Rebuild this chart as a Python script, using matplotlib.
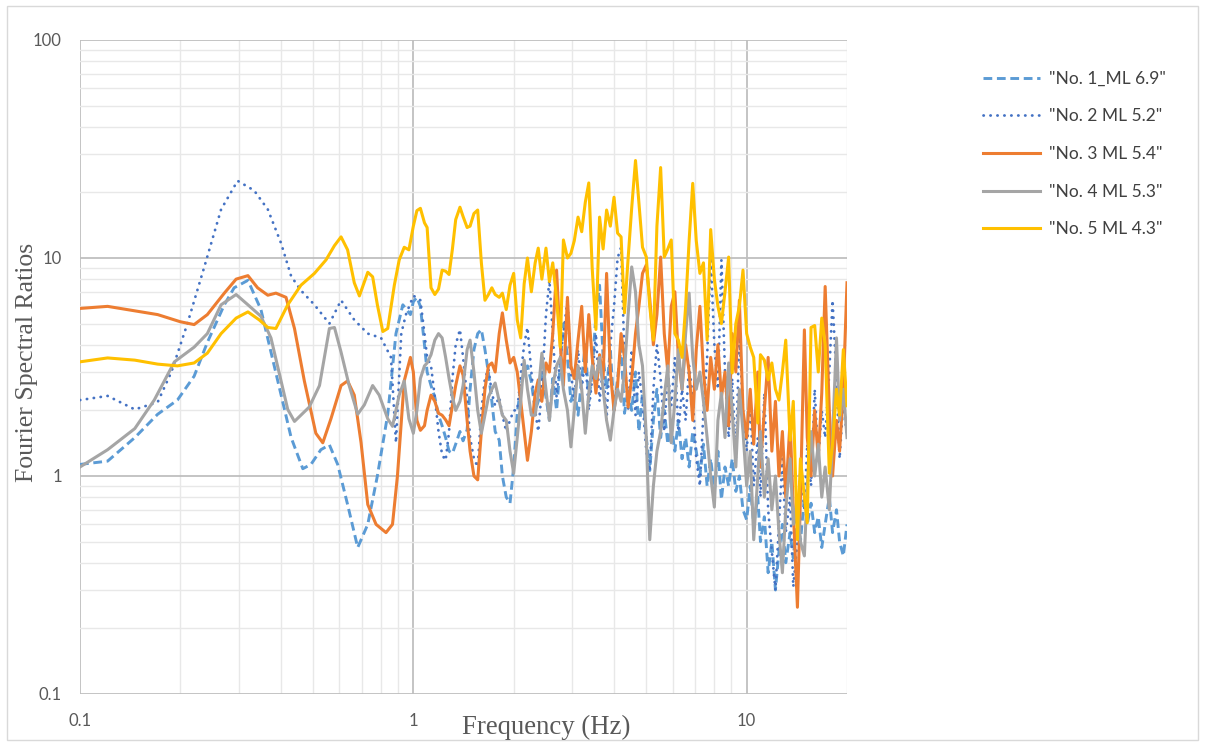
import numpy as np
import matplotlib
matplotlib.use("Agg")
import matplotlib.pyplot as plt
from matplotlib.ticker import FixedLocator, NullFormatter
from matplotlib.patches import Rectangle

# ---- data ----
# smooth low-frequency part, one grid per series
f1_lo = [0.1, 0.121, 0.146, 0.171, 0.196, 0.22, 0.241, 0.271, 0.29, 0.319, 0.349, 0.374, 0.401, 0.43,
         0.466, 0.493, 0.528, 0.56, 0.593, 0.635, 0.681, 0.73, 0.78, 0.838, 0.887, 0.93, 0.98]
v1_lo = [1.13, 1.17, 1.5, 1.92, 2.23, 2.87, 4.1, 6.1, 7.3, 7.9, 5.8, 3.7, 2.35, 1.5,
         1.08, 1.13, 1.32, 1.39, 1.13, 0.74, 0.47, 0.6, 1.0, 1.92, 4.5, 6.1, 5.5]

f2_lo = [0.1, 0.121, 0.146, 0.171, 0.188, 0.21, 0.236, 0.265, 0.297, 0.333, 0.366, 0.401, 0.43, 0.46,
         0.505, 0.56, 0.607, 0.665, 0.73, 0.8, 0.857, 0.887, 0.92, 0.95]
v2_lo = [2.23, 2.33, 2.02, 2.18, 3.0, 5.0, 9.1, 16.7, 22.6, 20.4, 16.7, 11.7, 8.25, 7.1,
         6.1, 5.0, 6.4, 5.2, 4.5, 4.3, 3.5, 1.42, 4.5, 5.5]

f3_lo = [0.1, 0.121, 0.171, 0.2, 0.22, 0.241, 0.271, 0.294, 0.319, 0.341, 0.366, 0.387, 0.415, 0.44,
         0.471, 0.51, 0.535, 0.566, 0.607, 0.635, 0.665, 0.697, 0.73, 0.773, 0.828, 0.866, 0.896, 0.939, 0.98]
v3_lo = [5.87, 6.0, 5.5, 5.1, 4.95, 5.5, 6.9, 8.0, 8.3, 7.3, 6.75, 6.9, 6.6, 4.75,
         2.73, 1.57, 1.42, 1.83, 2.6, 2.73, 2.35, 1.42, 0.74, 0.6, 0.55, 0.6, 1.0, 2.73, 3.5]

f4_lo = [0.1, 0.121, 0.146, 0.167, 0.192, 0.22, 0.241, 0.265, 0.294, 0.319, 0.349, 0.374, 0.401, 0.42,
         0.44, 0.487, 0.523, 0.56, 0.58, 0.607, 0.642, 0.681, 0.713, 0.755, 0.79, 0.838, 0.866, 0.907, 0.939, 0.97]
v4_lo = [1.1, 1.32, 1.65, 2.23, 3.34, 3.9, 4.5, 6.1, 6.8, 6.1, 5.4, 4.3, 2.73, 2.02,
         1.78, 2.07, 2.6, 4.75, 4.8, 3.7, 2.6, 1.92, 2.12, 2.6, 2.35, 1.83, 1.69, 2.35, 2.73, 1.83]

f5_lo = [0.1, 0.121, 0.146, 0.171, 0.196, 0.22, 0.241, 0.265, 0.294, 0.319, 0.345, 0.366, 0.387, 0.42,
         0.46, 0.505, 0.547, 0.58, 0.607, 0.635, 0.665, 0.689, 0.73, 0.755, 0.78, 0.81, 0.838, 0.877,
         0.907, 0.939, 0.97]
v5_lo = [3.34, 3.48, 3.4, 3.26, 3.2, 3.3, 3.66, 4.5, 5.3, 5.66, 5.2, 4.8, 4.75, 6.1,
         7.5, 8.5, 9.8, 11.4, 12.5, 10.9, 7.7, 6.7, 8.6, 8.2, 6.1, 4.6, 4.75, 7.5,
         9.8, 11.2, 10.9]

# noisy part, shared frequency grid 1-20 Hz
freq_hi = [1.00, 1.025, 1.05, 1.08, 1.10, 1.13, 1.16, 1.19, 1.22, 1.25,
           1.28, 1.31, 1.34, 1.38, 1.41, 1.45, 1.48, 1.52, 1.56, 1.60,
           1.64, 1.68, 1.72, 1.76, 1.81, 1.85, 1.90, 1.95, 2.00, 2.05,
           2.10, 2.15, 2.20, 2.26, 2.32, 2.37, 2.43, 2.50, 2.56, 2.62,
           2.69, 2.76, 2.82, 2.90, 2.97, 3.04, 3.12, 3.20, 3.28, 3.36,
           3.44, 3.53, 3.62, 3.71, 3.80, 3.90, 4.00, 4.10, 4.20, 4.30,
           4.41, 4.52, 4.64, 4.75, 4.87, 5.00, 5.12, 5.25, 5.38, 5.52,
           5.66, 5.80, 5.94, 6.09, 6.24, 6.40, 6.56, 6.72, 6.89, 7.06,
           7.24, 7.42, 7.61, 7.80, 8.00, 8.20, 8.40, 8.61, 8.83, 9.05,
           9.28, 9.51, 9.75, 10.0, 10.25, 10.5, 10.8, 11.0, 11.3, 11.6,
           11.9, 12.2, 12.5, 12.8, 13.1, 13.5, 13.8, 14.2, 14.5, 14.9,
           15.2, 15.6, 16.0, 16.4, 16.8, 17.2, 17.7, 18.1, 18.6, 19.0,
           19.5, 20.0]

v1_hi = [6.3, 6.6, 6.0, 4.0, 3.0, 2.6, 2.3, 1.9, 1.7, 1.5,
         1.3, 1.27, 1.4, 1.6, 1.45, 1.63, 2.5, 3.8, 4.5, 4.7,
         3.8, 2.97, 2.2, 1.6, 1.46, 1.0, 0.8, 0.75, 1.1, 1.94,
         2.6, 3.0, 3.2, 2.7, 2.0, 2.2, 3.0, 2.3, 1.8, 2.8,
         2.0, 3.3, 5.0, 3.5, 2.2, 2.5, 1.9, 2.8, 4.0, 2.2,
         3.0, 5.5, 7.5, 3.5, 2.5, 3.8, 2.0, 2.8, 3.9, 1.94,
         2.5, 2.0, 3.0, 1.6, 2.4, 1.5, 1.06, 1.8, 2.5, 1.5,
         2.0, 1.4, 1.7, 1.3, 1.8, 1.2, 1.5, 1.1, 1.6, 1.3,
         1.0, 1.4, 0.9, 1.2, 0.85, 1.3, 0.78, 1.1, 0.9, 1.2,
         0.85, 1.0, 0.7, 0.63, 0.9, 0.6, 0.8, 0.5, 0.65, 0.36,
         0.5, 0.3, 0.45, 0.6, 0.4, 0.55, 0.42, 0.7, 0.5, 0.8,
         0.6, 0.75, 0.55, 0.65, 0.47, 0.6, 0.8, 0.55, 0.7, 0.5,
         0.43, 0.6]

v2_hi = [6.7, 6.6, 6.4, 4.5, 3.5, 3.2, 2.3, 1.6, 1.25, 1.18,
         1.6, 2.8, 4.0, 4.7, 3.5, 2.3, 1.5, 1.2, 1.1, 2.0,
         2.8, 3.1, 2.4, 2.1, 2.3, 1.9, 1.6, 1.8, 2.0, 2.0,
         2.9, 4.0, 4.8, 3.0, 2.0, 1.6, 2.5, 5.5, 7.9, 4.5,
         2.3, 3.5, 4.5, 6.4, 3.0, 2.2, 3.8, 2.5, 3.5, 2.0,
         2.8, 4.5, 2.2, 3.2, 1.8, 4.0, 6.0, 10.0, 11.2, 3.5,
         2.0, 3.8, 1.9, 3.0, 2.2, 1.3, 1.05, 2.5, 4.0, 2.8,
         1.6, 3.0, 2.1, 3.5, 1.6, 2.5, 1.8, 3.2, 2.3, 1.2,
         0.9, 2.0, 3.5, 10.1, 4.0, 2.5, 9.8, 3.0, 1.5, 2.8,
         1.2, 4.5, 2.0, 1.3, 2.2, 0.9, 1.5, 0.8, 2.4, 0.7,
         0.45, 0.3, 0.6, 1.2, 0.55, 0.8, 0.31, 0.5, 1.1, 0.7,
         1.4, 0.9, 2.5, 1.2, 2.0, 1.5, 3.0, 6.4, 2.8, 1.2,
         2.2, 1.5]

v3_hi = [3.0, 1.8, 1.62, 1.7, 2.0, 2.35, 2.2, 1.94, 1.9, 1.81,
         1.7, 2.1, 2.6, 3.2, 2.9, 1.8, 1.3, 1.0, 0.96, 1.6,
         2.5, 3.2, 3.3, 3.0, 4.5, 5.6, 4.2, 3.3, 3.5, 3.0,
         2.2, 1.6, 1.18, 1.6, 2.4, 2.76, 2.2, 3.3, 3.0, 4.5,
         8.8, 4.0, 2.6, 6.6, 3.2, 2.8, 4.2, 6.0, 3.0, 5.5,
         3.5, 2.4, 3.6, 2.8, 8.5, 3.0, 2.0, 2.6, 4.5, 3.5,
         2.07, 2.8, 4.5, 6.0, 8.5, 9.3, 6.5, 4.0, 5.5, 10.1,
         4.5, 3.0, 6.0, 7.0, 3.5, 2.5, 4.0, 3.0, 1.8, 3.8,
         6.0, 3.0, 2.0, 3.5, 2.5, 4.0, 2.3, 3.0, 1.7, 4.5,
         3.0, 6.4, 2.0, 1.5, 2.5, 1.4, 3.0, 1.1, 2.0, 3.5,
         1.3, 2.2, 1.0, 1.6, 0.8, 1.8, 0.7, 0.25, 0.8, 4.68,
         1.5, 1.0, 2.0, 1.2, 2.4, 7.4, 2.0, 1.0, 1.8, 1.3,
         2.5, 7.7]

v4_hi = [1.57, 2.0, 2.8, 3.2, 3.3, 3.6, 4.2, 4.5, 4.3, 3.5,
         2.8, 2.3, 2.0, 2.2, 2.6, 3.8, 4.2, 3.0, 2.0, 1.57,
         1.9, 2.3, 2.5, 2.67, 2.2, 1.9, 1.8, 1.3, 1.03, 1.5,
         2.2, 3.4, 2.5, 1.9, 1.9, 2.4, 3.66, 2.5, 1.8, 2.6,
         3.2, 3.5, 2.5, 2.0, 1.36, 2.0, 3.2, 2.5, 1.57, 2.4,
         3.2, 2.8, 3.5, 2.5, 1.8, 1.46, 2.0, 2.5, 2.2, 3.0,
         5.5, 9.1, 7.0, 4.0, 3.2, 1.5, 0.51, 0.9, 1.3, 1.6,
         2.3, 3.2, 1.42, 2.2, 3.8, 2.5, 4.5, 6.9, 3.5, 2.5,
         3.0, 2.2, 1.5, 1.0, 0.72, 1.8, 2.4, 1.5, 3.3, 2.0,
         1.1, 2.5, 1.6, 0.9, 1.3, 0.51, 1.0, 1.6, 0.8, 1.2,
         0.7, 1.0, 0.55, 0.36, 0.7, 1.2, 0.6, 0.8, 0.5, 0.43,
         0.9, 1.6, 1.0, 1.4, 0.8, 1.1, 0.7, 1.5, 4.3, 1.8,
         2.5, 1.5]

v5_hi = [14.0, 16.5, 16.9, 14.5, 13.8, 7.3, 6.8, 7.2, 8.8, 8.7,
         8.4, 11.0, 15.0, 17.1, 15.5, 13.8, 14.0, 16.0, 16.6, 9.5,
         6.4, 6.8, 7.3, 6.8, 6.6, 6.9, 5.8, 7.5, 8.5, 5.2,
         4.3, 7.6, 10.0, 7.0, 9.5, 11.1, 8.0, 11.1, 7.8, 9.5,
         6.5, 3.9, 12.1, 10.0, 10.5, 12.0, 15.4, 13.2, 18.0, 22.1,
         9.0, 4.7, 15.4, 11.0, 16.6, 14.0, 19.0, 13.0, 12.5, 5.6,
         10.0, 17.0, 28.0, 18.0, 11.2, 10.1, 6.0, 4.2, 14.0, 26.0,
         10.1, 11.0, 12.1, 4.5, 4.2, 3.5, 6.0, 12.0, 22.0, 12.0,
         8.5, 9.5, 4.2, 13.5, 8.0, 6.0, 5.0, 7.0, 10.1, 2.97,
         5.0, 6.0, 8.8, 4.5, 3.9, 3.5, 1.75, 3.6, 3.4, 2.76,
         3.3, 2.5, 2.23, 3.0, 4.2, 1.46, 2.2, 0.51, 1.2, 0.8,
         0.61, 4.8, 4.9, 3.0, 5.3, 4.0, 1.03, 1.4, 2.5, 1.9,
         3.8, 2.1]

labels = ['"No. 1_ML 6.9"', '"No. 2 ML 5.2"', '"No. 3 ML 5.4"', '"No. 4 ML 5.3"', '"No. 5 ML 4.3"']
colors = ["#5B9BD5", "#4472C4", "#ED7D31", "#A5A5A5", "#FFC000"]

lo_f = [f1_lo, f2_lo, f3_lo, f4_lo, f5_lo]
lo_v = [v1_lo, v2_lo, v3_lo, v4_lo, v5_lo]
hi_v = [v1_hi, v2_hi, v3_hi, v4_hi, v5_hi]

fig = plt.figure(figsize=(12.05, 7.44), dpi=100)
ax = fig.add_axes([80 / 1205, 1 - 694 / 744, (847 - 80) / 1205, (694 - 40) / 744])

# outer chart border
fig.patches.append(Rectangle((7 / 1205, 4 / 744), 1191 / 1205, 734 / 744, transform=fig.transFigure,
                             fill=False, edgecolor="#d9d9d9", lw=1.0))

styles = [
    dict(linestyle=(0, (3.0, 1.6)), lw=2.1),
    dict(linestyle=(0, (0.1, 2.4)), lw=2.0, dash_capstyle="round"),
    dict(linestyle="-", lw=2.2),
    dict(linestyle="-", lw=2.2),
    dict(linestyle="-", lw=2.2),
]

for i in range(5):
    x = np.concatenate([lo_f[i], freq_hi])
    y = np.concatenate([lo_v[i], hi_v[i]])
    ax.plot(x, y, color=colors[i], label=labels[i], solid_joinstyle="round", **styles[i])

ax.set_xscale("log")
ax.set_yscale("log")
ax.set_xlim(0.1, 20)
ax.set_ylim(0.1, 100)

ax.xaxis.set_major_locator(FixedLocator([0.1, 1, 10]))
ax.xaxis.set_minor_locator(FixedLocator([k * 0.1 for k in range(2, 10)] + list(range(2, 10)) + [20]))
ax.yaxis.set_major_locator(FixedLocator([0.1, 1, 10, 100]))
ax.yaxis.set_minor_locator(FixedLocator([k * 0.1 for k in range(2, 10)] + list(range(2, 10))
                                        + [k * 10 for k in range(2, 10)]))
ax.set_xticklabels(["0.1", "1", "10"])
ax.set_yticklabels(["0.1", "1", "10", "100"])
ax.xaxis.set_minor_formatter(NullFormatter())
ax.yaxis.set_minor_formatter(NullFormatter())

ax.grid(True, which="minor", color="#e8e8e8", lw=1.0)
ax.grid(True, which="major", color="#bfbfbf", lw=1.3)
ax.set_axisbelow(True)
for s in ax.spines.values():
    s.set_visible(False)
ax.tick_params(which="both", length=0)
ax.tick_params(axis="x", pad=14, labelsize=12, labelcolor="#595959")
ax.tick_params(axis="y", pad=13, labelsize=12, labelcolor="#595959")
for t in ax.get_xticklabels() + ax.get_yticklabels():
    t.set_fontfamily("Lato")

fig.text(546 / 1205, 1 - 727 / 744, "Frequency (Hz)", ha="center", va="center",
         fontsize=19.3, family="Liberation Serif", color="#595959")
fig.text(27 / 1205, 1 - 362 / 744, "Fourier Spectral Ratios", ha="center", va="center",
         rotation=90, fontsize=18.5, family="Liberation Serif", color="#595959")

leg = fig.legend(loc="upper left", bbox_to_anchor=(967 / 1205, 1 - 55 / 744), frameon=False,
                 handlelength=3.3, handletextpad=0.5, labelspacing=1.25,
                 prop={"family": "Lato", "size": 12.5})
for t in leg.get_texts():
    t.set_color("#404040")

fig.savefig("out.png", dpi=100)
